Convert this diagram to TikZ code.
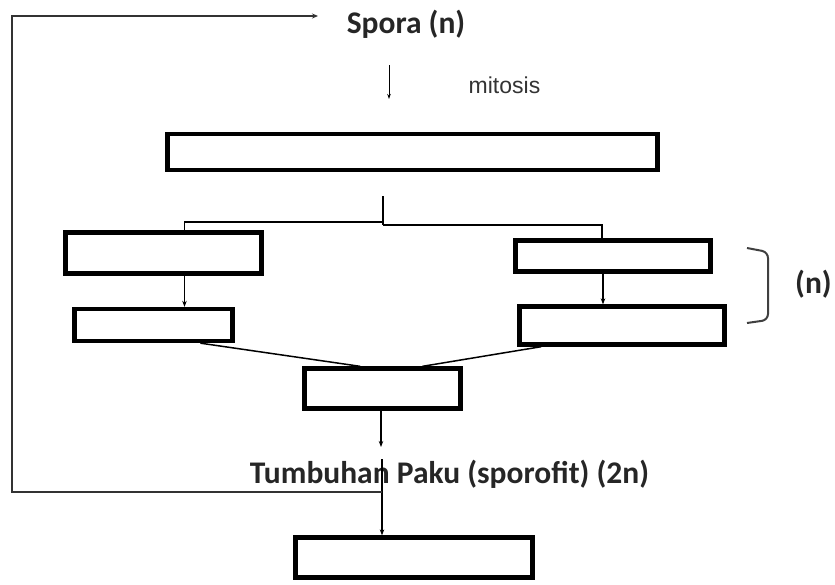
\documentclass[tikz,border=0pt]{standalone}
\usepackage{fontspec}
\setmainfont{Carlito}
\newfontfamily\arialf{Liberation Sans}
\usetikzlibrary{arrows.meta,calc}
\begin{document}
\begin{tikzpicture}[x=1pt,y=-1pt,
  box/.style={draw=black,line width=4.3pt,minimum width=#1,inner sep=0pt,fill=white},
  conn/.style={line width=1.5pt},
  arr/.style={line width=1.5pt,-{Stealth[length=6pt,width=4.5pt]}},
  loopline/.style={line width=2.8pt,draw=black!80},
  lbl/.style={font=\bfseries\fontsize{31.5}{36}\selectfont,inner sep=0pt,text=black!85}]
\useasboundingbox (0,0) rectangle (835,584);
% boxes
\node[box=490pt,minimum height=36pt] (top) at (412.5,152) {};
\node[box=196pt,minimum height=41pt] (l1) at (163.5,253) {};
\node[box=158pt,minimum height=32pt] (l2) at (153.5,325) {};
\node[box=195pt,minimum height=31pt] (r1) at (613,256) {};
\node[box=205pt,minimum height=38pt] (r2) at (622,325.5) {};
\node[box=156pt,minimum height=40pt] (c) at (382.5,388.5) {};
\node[box=237pt,minimum height=40pt] (b) at (414,557.5) {};
% texts
\node[lbl] (spora) at (406,24) {Spora (n)};
\node[font=\arialf\fontsize{23}{26}\selectfont,inner sep=0pt,text=black!80] (mit) at (504.5,85) {mitosis};
\node[lbl] (tp) at (449.5,474) {Tumbuhan Paku (sporofit) (2n)};
\node[lbl] (nn) at (813.5,284) {(n)};
% mitosis arrow
\coordinate (m1) at (389,65);
\coordinate (m2) at (389,99);
\draw[line width=1pt,-{Stealth[length=5pt,width=3.5pt]}] (m1) -- (m2);
% split
\coordinate (s0) at (383,196);
\coordinate (s1) at (383,222);
\coordinate (s2) at (383,225);
\draw[conn] (s0) -- (s2);
\draw[conn] (s1) -- (s1 -| {$(l1.north)+(21,0)$}) -- ($(l1.north)+(21,0)$);
\draw[conn] (s2) -- (s2 -| {$(r1.north)+(-11,0)$}) -- ($(r1.north)+(-11,0)$);
% box to box arrows
\draw[arr] ($(l1.south)+(21,0)$) -- ($(l2.north)+(31,0)$);
\draw[arr] ($(r1.south)+(-10,0)$) -- ($(r2.north)+(-19,0)$);
% merging lines
\draw[conn] ($(l2.south west)+(128,0)$) -- ($(c.north west)+(58,0)$);
\draw[conn] ($(r2.south west)+(24,0)$) -- ($(c.north west)+(120,0)$);
% brace
\coordinate (br1) at (747,248);
\coordinate (br2) at (768,252);
\coordinate (br3) at (768,320);
\coordinate (br4) at (747,323);
\draw[line width=2pt,draw=black!75,rounded corners=6pt] (br1) -- (br2) -- (br3) -- (br4);
% down arrows
\coordinate (t1) at (381,447);
\coordinate (t2) at (382,459);
\coordinate (lp) at (382,492);
\draw[arr] (c.south -| t1) -- (t1);
\draw[arr] (t2) -- (b.north -| t2);
% loop back
\coordinate (lc1) at (12,492);
\coordinate (lc2) at (12,16);
\coordinate (lend) at (318,16);
\draw[loopline,-{Stealth[length=6pt,width=5pt]}] (lp) -- (lc1) -- (lc2) -- (lend);
\end{tikzpicture}
\end{document}
